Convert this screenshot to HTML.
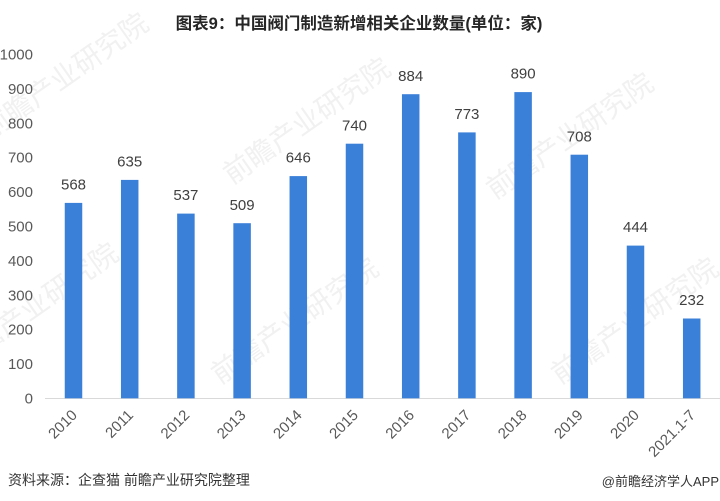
<!DOCTYPE html>
<html><head><meta charset="utf-8"><style>
html,body{margin:0;padding:0;background:#fff;}
svg{display:block;}
text{font-family:"Liberation Sans","Noto Sans CJK SC",sans-serif;}
</style></head><body>
<svg width="720" height="501" viewBox="0 0 720 501" xmlns="http://www.w3.org/2000/svg">
<rect width="720" height="501" fill="#fff"/>
<!-- watermarks -->
<g fill="#f1f1f1" font-size="28" font-family="Noto Sans CJK SC, sans-serif">
  <text x="-10" y="140" transform="rotate(-35 -10 140)">前瞻产业研究院</text>
  <text x="232" y="185" transform="rotate(-35 232 185)">前瞻产业研究院</text>
  <text x="495" y="200" transform="rotate(-35 495 200)">前瞻产业研究院</text>
  <text x="560" y="385" transform="rotate(-35 560 385)">前瞻产业研究院</text>
  <text x="-40" y="370" transform="rotate(-35 -40 370)">前瞻产业研究院</text>
  <text x="220" y="385" transform="rotate(-35 220 385)">前瞻产业研究院</text>
</g>
<!-- title -->
<text x="359" y="29" text-anchor="middle" font-size="16.5" font-weight="bold" fill="#262626">图表9：中国阀门制造新增相关企业数量(单位：家)</text>
<!-- y axis labels -->
<g font-size="15" fill="#595959" text-anchor="end">
  <text x="33" y="59.5">1000</text>
  <text x="33" y="93.9">900</text>
  <text x="33" y="128.3">800</text>
  <text x="33" y="162.7">700</text>
  <text x="33" y="197.1">600</text>
  <text x="33" y="231.5">500</text>
  <text x="33" y="265.9">400</text>
  <text x="33" y="300.3">300</text>
  <text x="33" y="334.7">200</text>
  <text x="33" y="369.1">100</text>
  <text x="33" y="403.5">0</text>
</g>
<!-- axis line -->
<line x1="45" y1="398.5" x2="720" y2="398.5" stroke="#d9d9d9" stroke-width="1"/>
<!-- bars -->
<g fill="#3a7fd8">
  <rect x="64.75" y="202.9" width="17.5" height="195.4"/>
  <rect x="120.95" y="179.9" width="17.5" height="218.4"/>
  <rect x="177.15" y="213.6" width="17.5" height="184.7"/>
  <rect x="233.35" y="223.2" width="17.5" height="175.1"/>
  <rect x="289.55" y="176.1" width="17.5" height="222.2"/>
  <rect x="345.75" y="143.7" width="17.5" height="254.6"/>
  <rect x="401.95" y="94.2" width="17.5" height="304.1"/>
  <rect x="458.15" y="132.4" width="17.5" height="265.9"/>
  <rect x="514.35" y="92.1" width="17.5" height="306.2"/>
  <rect x="570.55" y="154.7" width="17.5" height="243.6"/>
  <rect x="626.75" y="245.6" width="17.5" height="152.7"/>
  <rect x="682.95" y="318.5" width="17.5" height="79.8"/>
</g>
<!-- value labels -->
<g font-size="15" fill="#404040" text-anchor="middle">
  <text x="73.5" y="189.5">568</text>
  <text x="129.7" y="166.5">635</text>
  <text x="185.9" y="200.2">537</text>
  <text x="242.1" y="209.8">509</text>
  <text x="298.3" y="162.7">646</text>
  <text x="354.5" y="130.3">740</text>
  <text x="410.7" y="80.8">884</text>
  <text x="466.9" y="119">773</text>
  <text x="523.1" y="78.7">890</text>
  <text x="579.3" y="141.3">708</text>
  <text x="635.5" y="232.2">444</text>
  <text x="691.7" y="305.1">232</text>
</g>
<!-- x labels -->
<g font-size="15" fill="#595959" text-anchor="end">
  <text x="78" y="416" transform="rotate(-45 78 416)">2010</text>
  <text x="134.2" y="416" transform="rotate(-45 134.2 416)">2011</text>
  <text x="190.4" y="416" transform="rotate(-45 190.4 416)">2012</text>
  <text x="246.6" y="416" transform="rotate(-45 246.6 416)">2013</text>
  <text x="302.8" y="416" transform="rotate(-45 302.8 416)">2014</text>
  <text x="359" y="416" transform="rotate(-45 359 416)">2015</text>
  <text x="415.2" y="416" transform="rotate(-45 415.2 416)">2016</text>
  <text x="471.4" y="416" transform="rotate(-45 471.4 416)">2017</text>
  <text x="527.6" y="416" transform="rotate(-45 527.6 416)">2018</text>
  <text x="583.8" y="416" transform="rotate(-45 583.8 416)">2019</text>
  <text x="640" y="416" transform="rotate(-45 640 416)">2020</text>
  <text x="696.2" y="416" transform="rotate(-45 696.2 416)">2021.1-7</text>
</g>
<!-- footers -->
<text x="8" y="485" font-size="14" fill="#333">资料来源：企查猫 前瞻产业研究院整理</text>
<text x="719" y="486" font-size="13" fill="#333" text-anchor="end">@前瞻经济学人APP</text>
</svg>
</body></html>
